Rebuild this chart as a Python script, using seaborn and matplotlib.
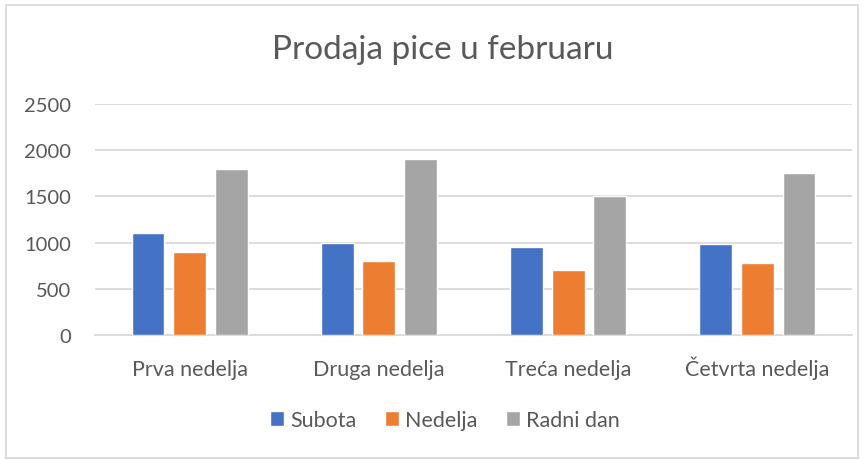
import matplotlib
matplotlib.use("Agg")
import matplotlib.pyplot as plt
import seaborn as sns
import pandas as pd
from matplotlib.patches import Rectangle

categories = ["Prva nedelja", "Druga nedelja", "Treća nedelja", "Četvrta nedelja"]
series_names = ["Subota", "Nedelja", "Radni dan"]
subota = [1100, 1000, 950, 980]
nedelja = [900, 800, 700, 780]
radni_dan = [1800, 1910, 1500, 1750]
yticks = [0, 500, 1000, 1500, 2000, 2500]

colors = ["#4472C4", "#ED7D31", "#A5A5A5"]
text_color = "#595959"

rows = []
for name, vals in zip(series_names, [subota, nedelja, radni_dan]):
    for c, v in zip(categories, vals):
        rows.append({"Nedelja": c, "Serija": name, "Prodaja": v})
df = pd.DataFrame(rows)

sns.set_theme(style="white")
plt.rcParams["font.family"] = ["Lato", "DejaVu Sans"]

fig = plt.figure(figsize=(8.68, 4.6), dpi=100)
ax = fig.add_axes([95 / 868, (460 - 336) / 460, (852 - 95) / 868, (336 - 105) / 460])

sns.barplot(data=df, x="Nedelja", y="Prodaja", hue="Serija", order=categories,
            hue_order=series_names, palette=colors, width=0.66, ax=ax,
            errorbar=None, saturation=1, legend=True)

for p in ax.patches:
    w = p.get_width()
    if w > 0:
        p.set_x(p.get_x() + w * 0.105)
        p.set_width(w * 0.79)
    p.set_zorder(3)

ax.set_ylim(0, 2500)
ax.set_xlim(-0.5, 3.5)
ax.set_yticks(yticks)
ax.set_yticklabels([str(t) for t in yticks])
ax.yaxis.grid(True, color="#D9D9D9", linewidth=1.3, zorder=0)
ax.set_axisbelow(True)
for s in ["top", "right", "left"]:
    ax.spines[s].set_visible(False)
ax.spines["bottom"].set_color("#D9D9D9")
ax.spines["bottom"].set_linewidth(1.3)
ax.tick_params(axis="both", length=0, colors=text_color)
ax.tick_params(axis="x", pad=28.8, labelsize=15.5)
ax.tick_params(axis="y", pad=17, labelsize=14.5)
for lbl in ax.get_xticklabels():
    lbl.set_va("baseline")
ax.set_xlabel("")
ax.set_ylabel("")

leg = ax.legend(loc="center", bbox_to_anchor=(445 / 868, (460 - 421) / 460),
                bbox_transform=fig.transFigure, ncol=3, frameon=False,
                fontsize=15.5, handlelength=0.65, handleheight=0.65,
                handletextpad=0.3, columnspacing=1.3)
for t in leg.get_texts():
    t.set_color(text_color)

fig.text(443 / 868, (460 - 50) / 460, "Prodaja pice u februaru", ha="center",
         va="center", fontsize=24, color=text_color)

fig.patches.append(Rectangle((6 / 868, 1 / 460), (858 - 6) / 868, (454 - 1) / 460,
                             transform=fig.transFigure, fill=False,
                             edgecolor="#D9D9D9", linewidth=1.3))

fig.savefig("out.png", dpi=100, facecolor="white")
